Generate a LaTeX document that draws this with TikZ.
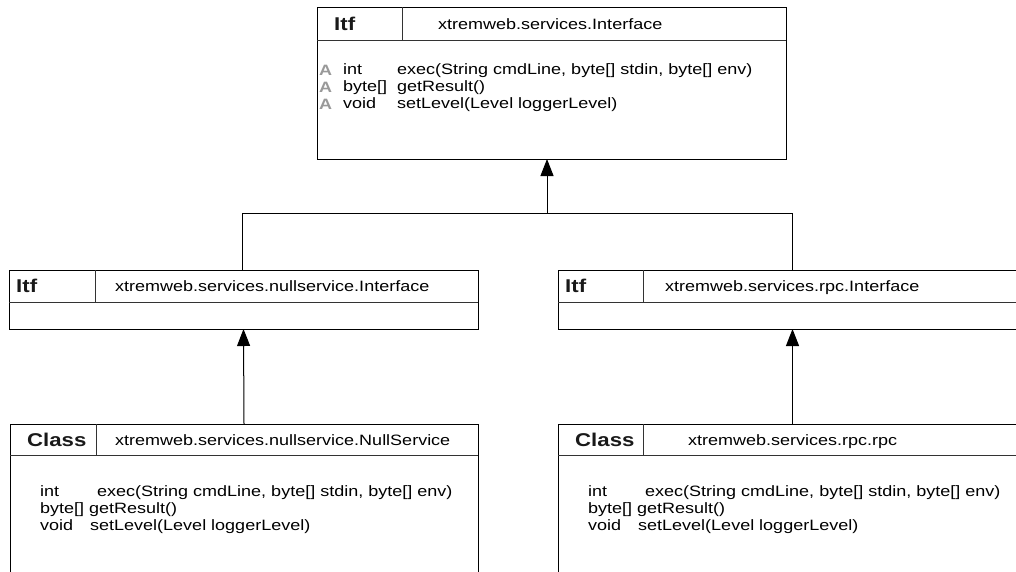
\documentclass[tikz,border=0pt]{standalone}
\usepackage{fontspec}
\setmainfont[FakeStretch=1.2]{Liberation Sans}
\usetikzlibrary{arrows.meta}
\begin{document}
\begin{tikzpicture}[x=1pt,y=-1pt,
  umlbox/.style={draw=black, line width=1pt, inner sep=0pt, outer sep=0pt, anchor=north west},
  sep/.style={draw=black!80, line width=1pt},
  kind/.style={font=\fontsize{18.5}{18.5}\selectfont\bfseries, anchor=base west, inner sep=0pt, text=black!90},
  cname/.style={font=\fontsize{15}{15}\selectfont, anchor=base west, inner sep=0pt},
  member/.style={font=\fontsize{15}{15}\selectfont, anchor=base west, inner sep=0pt},
  absmark/.style={font=\fontsize{15}{15}\selectfont\bfseries, anchor=base west, inner sep=0pt, text=black!40},
  inherit/.style={draw=black, line width=1pt, -{Triangle[length=17pt,width=13pt]}},
  link/.style={draw=black, line width=1pt}
]
\useasboundingbox (0,0) rectangle (1016,571);
\clip (0,0) rectangle (1016,571);

% boxes
\node[umlbox, minimum width=469pt, minimum height=152pt] (top) at (317,7) {};
\node[umlbox, minimum width=469pt, minimum height=59pt] (nulli) at (9,270) {};
\node[umlbox, minimum width=469pt, minimum height=59pt] (rpci) at (558,270) {};
\node[umlbox, minimum width=468pt, minimum height=200pt] (nulls) at (10,424) {};
\node[umlbox, minimum width=469pt, minimum height=200pt] (rpcc) at (558,424) {};

% header separators
\draw[sep] (317,40) -- (786,40);  \draw[sep] (402,7) -- (402,40);
\draw[sep] (9,302) -- (478,302);  \draw[sep] (95,270) -- (95,302);
\draw[sep] (558,302) -- (1027,302); \draw[sep] (643,270) -- (643,302);
\draw[sep] (10,455) -- (478,455); \draw[sep] (96,424) -- (96,455);
\draw[sep] (558,455) -- (1027,455); \draw[sep] (643,424) -- (643,455);

% top box texts
\node[kind] (topk) at (334,30) {Itf};
\node[cname] (topn) at (438,29) {xtremweb.services.Interface};
\node[absmark] (a1) at (319,75) {A};
\node[absmark] (a2) at (319,92) {A};
\node[absmark] (a3) at (319,109) {A};
\node[member] (tt1) at (343,74) {int};
\node[member] (tt2) at (343,91) {byte[]};
\node[member] (tt3) at (343,108) {void};
\node[member] (tm1) at (397,74) {exec(String cmdLine, byte[] stdin, byte[] env)};
\node[member] (tm2) at (397,91) {getResult()};
\node[member] (tm3) at (397,108) {setLevel(Level loggerLevel)};

% level 2
\node[kind] (nik) at (16,292.5) {Itf};
\node[cname] (nin) at (115,291.5) {xtremweb.services.nullservice.Interface};
\node[kind] (rik) at (565,292.5) {Itf};
\node[cname] (rin) at (665,291.5) {xtremweb.services.rpc.Interface};

% bottom left
\node[kind] (nsk) at (27,446) {Class};
\node[cname] (nsn) at (115,445) {xtremweb.services.nullservice.NullService};
\node[member] (bt1) at (40,496) {int};
\node[member] (bt2) at (40,513) {byte[]};
\node[member] (bt3) at (40,530) {void};
\node[member] (bm1) at (97,496) {exec(String cmdLine, byte[] stdin, byte[] env)};
\node[member] (bm2) at (89,513) {getResult()};
\node[member] (bm3) at (90,530) {setLevel(Level loggerLevel)};

% bottom right
\node[kind] (rck) at (575,446) {Class};
\node[cname] (rcn) at (688,445) {xtremweb.services.rpc.rpc};
\node[member] (ct1) at (588,496) {int};
\node[member] (ct2) at (588,513) {byte[]};
\node[member] (ct3) at (588,530) {void};
\node[member] (cm1) at (645,496) {exec(String cmdLine, byte[] stdin, byte[] env)};
\node[member] (cm2) at (637,513) {getResult()};
\node[member] (cm3) at (638,530) {setLevel(Level loggerLevel)};

% connectors
\coordinate (j) at (547,213);
\coordinate (jl) at (242,213);
\coordinate (jr) at (792,213);
\draw[link] (jl |- nulli.north) -- (jl) -- (jr) -- (jr |- rpci.north);
\draw[inherit] (j) -- (j |- top.south);
\draw[inherit] (nulls.north) -- (nulli.south);
\draw[inherit] (rpcc.north) -- (rpci.south);
\end{tikzpicture}
\end{document}
